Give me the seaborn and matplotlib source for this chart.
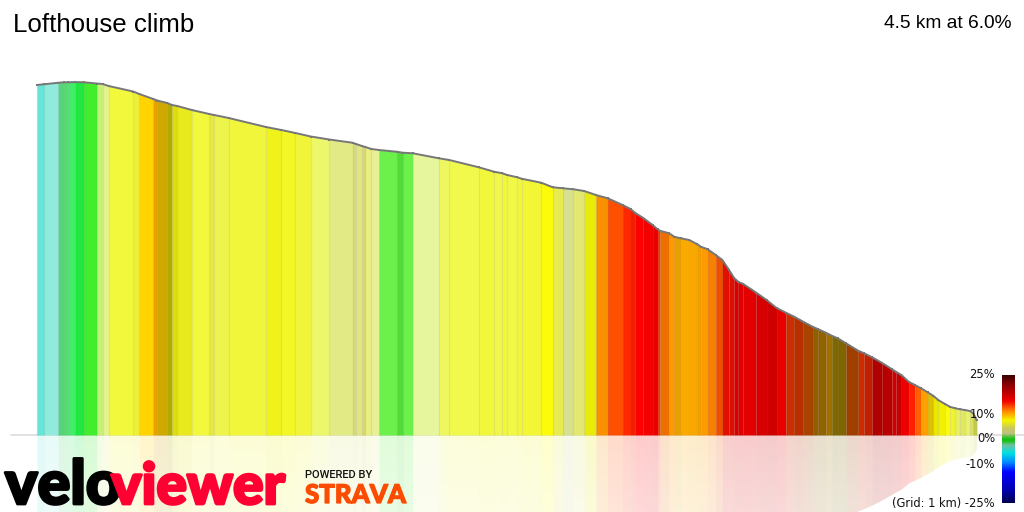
import matplotlib
matplotlib.use("Agg")
import matplotlib.patheffects as pe
import matplotlib.pyplot as plt
import numpy as np
import pandas as pd
import seaborn as sns
from matplotlib.colors import LinearSegmentedColormap

# distance along the climb (m) at each segment edge
seg_dist = [
    0, 35, 102, 128, 150, 182, 224, 287, 315, 344, 462, 491, 558, 577, 625, 648,
    673, 743, 827, 850, 920, 1099, 1173, 1240, 1314, 1403, 1515, 1531, 1560, 1576,
    1605, 1642, 1727, 1758, 1803, 1928, 1979, 2120, 2195, 2233, 2257, 2305, 2327,
    2421, 2475, 2523, 2574, 2627, 2683, 2739, 2811, 2849, 2872, 2910, 2955, 2979,
    2990, 3034, 3059, 3090, 3131, 3167, 3187, 3219, 3258, 3290, 3322, 3346, 3366,
    3390, 3451, 3502, 3550, 3595, 3635, 3678, 3723, 3750, 3787, 3815, 3843, 3883,
    3942, 3970, 4008, 4055, 4104, 4123, 4149, 4184, 4214, 4243, 4275, 4302, 4326,
    4358, 4382, 4406, 4430, 4454, 4478, 4494, 4510,
]
# height above the base line (m) at each segment edge
seg_elev = [
    280, 280.6, 281.8, 282.1, 282.2, 282.3, 282.2, 281.2, 280.8, 279.2, 274.8, 272.8,
    268.8, 267.6, 265.6, 264, 263.2, 260, 256.8, 256, 253.6, 246.4, 244, 241.6, 238.8,
    236.4, 233.8, 232.8, 231.2, 230.4, 228.8, 228, 226.6, 225.8, 225.4, 221.4, 220,
    214.2, 210.6, 209.4, 208, 206.2, 205, 201.8, 198.2, 197.4, 196.6, 195.2, 192, 189.4,
    184, 180.8, 177.6, 173.6, 168, 164.6, 163.4, 161.4, 158.6, 157.4, 156, 152.8, 150.6,
    148.6, 144, 140, 132, 125.6, 122.6, 120.8, 114, 108, 101.6, 97.8, 94.6, 90.6, 86.6,
    84.6, 81.8, 79.4, 77.4, 73.4, 67.4, 65.4, 62.2, 57.8, 52.6, 50.6, 48, 42.6, 40, 37.4,
    34.2, 31.4, 28, 24.8, 22.6, 21.4, 20.6, 20, 19.2, 17.4, 12,
]
seg_colors = [
    "#66E6D8", "#90EBDC", "#55D57A", "#50E070", "#40EE6A", "#20E840", "#40EE2E", "#C6F07A",
    "#E6F38C", "#F2F93C", "#EDF03A", "#FFD400", "#E8A000", "#CFA800", "#B0AC00", "#DDDD10",
    "#E8EA1E", "#F2F93C", "#E4E840", "#EDF54C", "#F2F63A", "#EFF31A", "#F2F725", "#F1F53A",
    "#ECF76A", "#E2EA86", "#D8DC80", "#E2E682", "#D8DA70", "#EAEE80", "#E8F096", "#6CF04C",
    "#50DC3A", "#6CF04C", "#E6F69C", "#EFF760", "#F0F94C", "#F1F83C", "#F0F64A", "#F1F83C",
    "#F2F848", "#F0F640", "#F2F634", "#FBFB0A", "#E6EC50", "#D6E08E", "#E2E870", "#E8EA08",
    "#F99000", "#FF5000", "#FF2800", "#F02000", "#FF0000", "#F50000", "#E80000", "#FF3000",
    "#EC6F00", "#FF9A00", "#E8A000", "#FAAA00", "#F8A800", "#F0A000", "#FF9A00", "#F88000",
    "#F04E00", "#E01000", "#E01000", "#D80000", "#E00000", "#E30000", "#D60000", "#CF0000",
    "#E80000", "#C83000", "#B83000", "#A84400", "#906000", "#906200", "#A07000", "#806800",
    "#806500", "#A04000", "#CC2C00", "#C02000", "#B00000", "#B80000", "#D00000", "#C80000",
    "#EE0000", "#FF2000", "#FF6000", "#FFA000", "#E0C000", "#E8E800", "#F0F000", "#FBFB10",
    "#EFF330", "#E8EE60", "#E0E860", "#E8F070", "#DCE258", "#C4C850",
]

# colour key: gradient (%) -> colour, from the bottom of the key upwards
key_grades = [-25, -20, -13, -9, -5.5, -2.5, -1, 0, 1, 2.3, 4.3, 7.4, 11, 15, 22, 25]
key_colors = ["#000050", "#0000B0", "#0000FF", "#0090FF", "#00E0E0", "#70C0A0", "#20C020",
              "#10C010", "#50C040", "#C0C080", "#C8C860", "#F5F500", "#FF8800", "#F00000",
              "#800000", "#3A0000"]
key_labels = ["25%", "10%", "0%", "-10%", "(Grid: 1 km) -25%"]
key_label_y = [375, 414, 439, 465, 503]

title = "Lofthouse climb"
summary = "4.5 km at 6.0%"

W, H = 1024, 512
M_PER_PX_X = 4.8
M_PER_PX_Y = 0.8
X0, Y0 = 37, 435
MIRROR_SCALE = 0.9

sns.set_theme(style="white")
plt.rcParams["font.family"] = ["Liberation Sans", "DejaVu Sans"]

fig = plt.figure(figsize=(W / 100, H / 100), dpi=100)
ax = fig.add_axes([0, 0, 1, 1])

profile = pd.DataFrame({"dist": seg_dist, "elev": seg_elev})

# coloured segments and their pale mirror image
for i, col in enumerate(seg_colors):
    xs = profile["dist"].iloc[i:i + 2]
    ys = profile["elev"].iloc[i:i + 2]
    ax.fill_between(xs, 0, ys, color=col, lw=0, zorder=2)
    ax.fill_between(xs, 0, -ys * MIRROR_SCALE, color=col, alpha=0.2, lw=0, zorder=2)

# faint lines between segments
ax.vlines(profile["dist"], 0, profile["elev"], color="black", alpha=0.07, lw=0.9, zorder=3)

sns.lineplot(data=profile, x="dist", y="elev", ax=ax, color="#777777", lw=1.4,
             estimator=None, sort=False, marker="s", markersize=2, markeredgewidth=0, zorder=4)

ax.axhline(0, xmin=11 / W, color="#DCDCDC", lw=1.2, zorder=1)

# fade the mirror image towards the bottom
fade = np.zeros((64, 1, 4))
fade[:, 0, :3] = 1
fade[:, 0, 3] = np.linspace(0, 0.25, 64)
ax.imshow(fade, extent=(seg_dist[0], seg_dist[-1], -(H - Y0) * M_PER_PX_Y, 0),
          aspect="auto", origin="upper", zorder=3)

ax.set_xlim(-X0 * M_PER_PX_X, (W - X0) * M_PER_PX_X)
ax.set_ylim(-(H - Y0) * M_PER_PX_Y, Y0 * M_PER_PX_Y)
ax.set_xlabel("")
ax.set_ylabel("")
ax.axis("off")

# colour key
cax = fig.add_axes([1002 / W, 1 - 503 / H, 13 / W, 128 / H])
key_cmap = LinearSegmentedColormap.from_list(
    "grade", [((g + 25) / 50, c) for g, c in zip(key_grades, key_colors)])
sns.heatmap(np.linspace(25, -25, 128)[:, None], cmap=key_cmap, vmin=-25, vmax=25,
            cbar=False, xticklabels=False, yticklabels=False, ax=cax)

for lab, y in zip(key_labels, key_label_y):
    fig.text(995 / W, 1 - y / H, lab, ha="right", va="center", fontsize=8.3,
             family="DejaVu Sans", color="#111111", zorder=6)

fig.text(13 / W, 1 - 25 / H, title, ha="left", va="center", fontsize=18.6, color="black")
fig.text(1011 / W, 1 - 23 / H, summary, ha="right", va="center", fontsize=13.8, color="black")

# logos
logo_font = dict(family="Lato", weight="black", va="baseline", zorder=7)
velo = fig.text(5 / W, 1 - 504 / H, "velo", ha="left", fontsize=44, color="black", **logo_font)
viewer = fig.text(285 / W, 1 - 504 / H, "viewer", ha="right", fontsize=41, color="#FF0033", **logo_font)
velo.set_path_effects([pe.withStroke(linewidth=2, foreground="black")])
viewer.set_path_effects([pe.withStroke(linewidth=2, foreground="#FF0033")])
fig.text(305 / W, 1 - 478 / H, "POWERED BY", ha="left", fontsize=8, family="Roboto",
         weight="medium", va="baseline", color="#111111", zorder=7)
strava = fig.text(305 / W, 1 - 503 / H, "STRAVA", ha="left", fontsize=18.6, color="#FC4C02", **logo_font)
strava.set_path_effects([pe.withStroke(linewidth=0.9, foreground="#FC4C02")])

fig.savefig("out.png", dpi=100)
